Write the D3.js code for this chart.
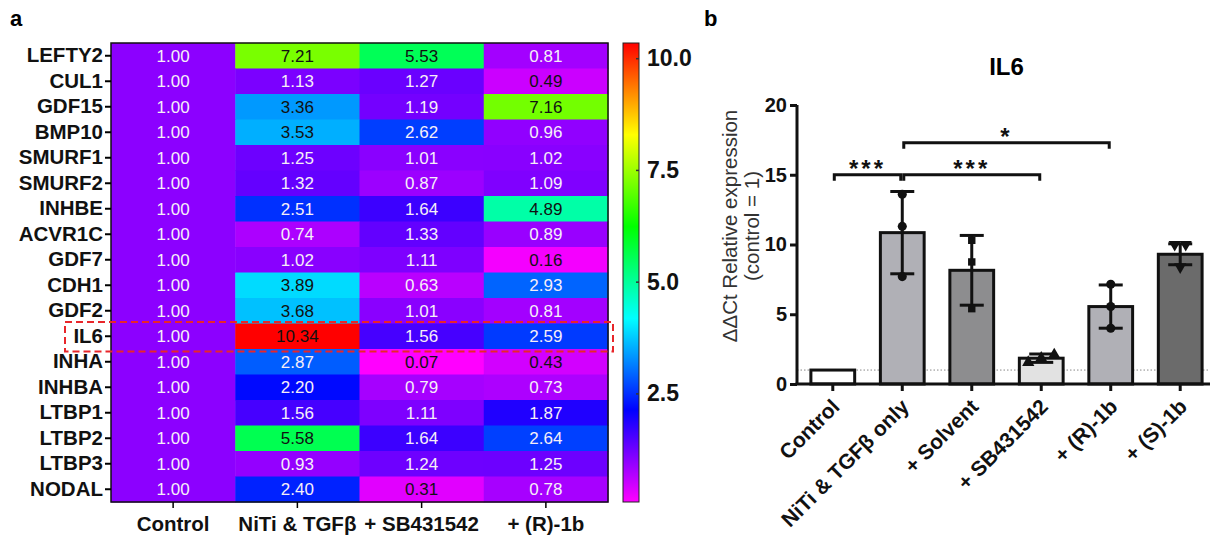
<!DOCTYPE html>
<html>
<head>
<meta charset="utf-8">
<script src="https://cdn.jsdelivr.net/npm/d3@7"></script>
<style>
  body { margin: 0; background: #fff; }
  text { font-family: Arial, "Liberation Sans", sans-serif; }
</style>
</head>
<body>
<svg id="fig" width="1210" height="535"></svg>
<script>
// ---- panel a data: fold change per gene ----
const genes = ["LEFTY2", "CUL1", "GDF15", "BMP10", "SMURF1", "SMURF2", "INHBE", "ACVR1C", "GDF7",
               "CDH1", "GDF2", "IL6", "INHA", "INHBA", "LTBP1", "LTBP2", "LTBP3", "NODAL"];
const conditions = ["Control", "NiTi & TGFβ", "+ SB431542", "+ (R)-1b"];
const controlVals = [1.00, 1.00, 1.00, 1.00, 1.00, 1.00, 1.00, 1.00, 1.00, 1.00, 1.00, 1.00, 1.00, 1.00, 1.00, 1.00, 1.00, 1.00];
const nitiVals    = [7.21, 1.13, 3.36, 3.53, 1.25, 1.32, 2.51, 0.74, 1.02, 3.89, 3.68, 10.34, 2.87, 2.20, 1.56, 5.58, 0.93, 2.40];
const sbVals      = [5.53, 1.27, 1.19, 2.62, 1.01, 0.87, 1.64, 1.33, 1.11, 0.63, 1.01, 1.56, 0.07, 0.79, 1.11, 1.64, 1.24, 0.31];
const r1bVals     = [0.81, 0.49, 7.16, 0.96, 1.02, 1.09, 4.89, 0.89, 0.16, 2.93, 0.81, 2.59, 0.43, 0.73, 1.87, 2.64, 1.25, 0.78];
const colorTicks = [2.5, 5.0, 7.5, 10.0];
const highlightGene = "IL6";

// ---- panel b data: IL6 ddCt ----
const groups = ["Control", "NiTi & TGFβ only", "+ Solvent", "+ SB431542", "+ (R)-1b", "+ (S)-1b"];
const groupMeans = [1.0, 10.85, 8.15, 1.85, 5.55, 9.3];
const groupSDs = [0, 2.95, 2.5, 0.3, 1.55, 0.75];
const replicates = [[], [13.6, 11.3, 7.7], [10.3, 8.75, 5.4], [1.55, 1.85, 2.1], [7.15, 5.55, 4.0], [10.0, 10.0, 8.4]];
const yTicksB = [0, 5, 10, 15, 20];
const comparisons = [
  { a: 0, b: 1, y: 15.0, label: "***" },
  { a: 1, b: 3, y: 15.0, label: "***" },
  { a: 1, b: 4, y: 17.3, label: "*" }
];

const svg = d3.select("#fig");
const series = [controlVals, nitiVals, sbVals, r1bVals];

// ================= panel a: heatmap =================
const hm = { left: 111, right: 608, top: 43, bottom: 502 };
const x = d3.scaleBand().domain(conditions).range([hm.left, hm.right]);
const y = d3.scaleBand().domain(genes).range([hm.top, hm.bottom]);
const color = d3.scaleLinear()
  .domain([d3.min(series.flat()), d3.max(series.flat())])
  .range([d3.hsl(300, 1, 0.5), d3.hsl(0, 1, 0.5)])
  .interpolate(d3.interpolateHslLong);

const cells = [];
genes.forEach((g, i) => conditions.forEach((c, j) => cells.push({ gene: g, cond: c, v: series[j][i] })));

const gA = svg.append("g");
gA.selectAll("rect.cell").data(cells).join("rect")
  .attr("class", "cell")
  .attr("x", d => x(d.cond))
  .attr("y", d => y(d.gene))
  .attr("width", x.bandwidth() + 0.5)
  .attr("height", y.bandwidth() + 0.5)
  .attr("fill", d => color(d.v));

gA.selectAll("text.val").data(cells).join("text")
  .attr("class", "val")
  .attr("x", d => x(d.cond) + x.bandwidth() / 2)
  .attr("y", d => y(d.gene) + y.bandwidth() / 2)
  .attr("dy", "0.36em")
  .attr("text-anchor", "middle")
  .style("font-size", "17px")
  .attr("fill", d => (d.v > 3 || d.v < 0.5) ? "#111" : "#f6eef8")
  .text(d => d.v.toFixed(2));

gA.append("rect")
  .attr("x", hm.left).attr("y", hm.top)
  .attr("width", hm.right - hm.left).attr("height", hm.bottom - hm.top)
  .attr("fill", "none").attr("stroke", "#111").attr("stroke-width", 1.5);

gA.append("g")
  .attr("transform", `translate(${hm.left},0)`)
  .call(d3.axisLeft(y).tickSize(6).tickPadding(2))
  .call(g => g.select(".domain").remove())
  .call(g => g.selectAll(".tick line").attr("stroke-width", 2))
  .call(g => g.selectAll("text").style("font-size", "20.5px").style("font-weight", "bold").attr("fill", "#111"));

gA.append("g")
  .attr("transform", `translate(0,${hm.bottom})`)
  .call(d3.axisBottom(x).tickSize(6).tickPadding(8))
  .call(g => g.select(".domain").remove())
  .call(g => g.selectAll(".tick line").attr("stroke-width", 1.5))
  .call(g => g.selectAll("text").style("font-size", "20.5px").style("font-weight", "bold").attr("fill", "#111"));

// highlight box
gA.append("rect")
  .attr("x", 65).attr("y", y(highlightGene) - 1.5)
  .attr("width", hm.right + 5 - 65).attr("height", y.bandwidth() + 4)
  .attr("fill", "none").attr("stroke", "#e8262a")
  .attr("stroke-width", 2).attr("stroke-dasharray", "7,4");

// colour bar
const cb = { x: 623, w: 16 };
const cScale = d3.scaleLinear().domain(color.domain()).range([hm.bottom, hm.top]);
const grad = svg.append("defs").append("linearGradient")
  .attr("id", "cbar").attr("x1", 0).attr("y1", 1).attr("x2", 0).attr("y2", 0);
d3.range(0, 1.0001, 0.05).forEach(t => {
  const v = color.domain()[0] + t * (color.domain()[1] - color.domain()[0]);
  grad.append("stop").attr("offset", t).attr("stop-color", color(v));
});
gA.append("rect")
  .attr("x", cb.x).attr("y", hm.top)
  .attr("width", cb.w).attr("height", hm.bottom - hm.top)
  .attr("fill", "url(#cbar)").attr("stroke", "#222").attr("stroke-width", 1);
gA.append("g")
  .attr("transform", `translate(${cb.x + cb.w},0)`)
  .call(d3.axisRight(cScale).tickValues(colorTicks).tickFormat(d3.format(".1f")).tickSize(-3).tickPadding(8))
  .call(g => g.select(".domain").remove())
  .call(g => g.selectAll(".tick line").attr("stroke", "#333").attr("stroke-width", 1.5))
  .call(g => g.selectAll("text").style("font-size", "23px").style("font-weight", "bold").attr("fill", "#111"));

svg.append("text").attr("x", 10).attr("y", 26)
  .style("font-size", "22px").style("font-weight", "bold").text("a");

// ================= panel b: bar chart =================
const bc = { left: 797, right: 1216, top: 105, bottom: 384 };
const xb = d3.scaleBand().domain(groups).range([bc.left, bc.right]).paddingInner(0.37).paddingOuter(0.2);
const yb = d3.scaleLinear().domain([0, 20]).range([bc.bottom, bc.top]);
const barFills = ["#ffffff", "#b0b0b6", "#8d8d8f", "#e2e2e2", "#b0b0b6", "#6b6b6b"];
const markers = [d3.symbolCircle, d3.symbolCircle, d3.symbolSquare, d3.symbolTriangle, d3.symbolCircle, d3.symbolTriangle];
const flip = [false, false, false, false, false, true];

const gB = svg.append("g");

gB.append("line")
  .attr("x1", bc.left).attr("x2", 1210)
  .attr("y1", yb(1)).attr("y2", yb(1))
  .attr("stroke", "#888").attr("stroke-width", 1).attr("stroke-dasharray", "1.5,2");

gB.selectAll("rect.bar").data(groups).join("rect")
  .attr("class", "bar")
  .attr("x", d => xb(d))
  .attr("y", (d, i) => yb(groupMeans[i]))
  .attr("width", xb.bandwidth())
  .attr("height", (d, i) => yb(0) - yb(groupMeans[i]))
  .attr("fill", (d, i) => barFills[i])
  .attr("stroke", "#111").attr("stroke-width", 3);

// error bars
const capW = 24;
groups.forEach((gname, i) => {
  if (!groupSDs[i]) return;
  const cx = xb(gname) + xb.bandwidth() / 2;
  const hi = yb(groupMeans[i] + groupSDs[i]), lo = yb(groupMeans[i] - groupSDs[i]);
  const eb = gB.append("g").attr("stroke", "#111").attr("stroke-width", 3);
  eb.append("line").attr("x1", cx).attr("x2", cx).attr("y1", hi).attr("y2", lo);
  eb.append("line").attr("x1", cx - capW / 2).attr("x2", cx + capW / 2).attr("y1", hi).attr("y2", hi);
  eb.append("line").attr("x1", cx - capW / 2).attr("x2", cx + capW / 2).attr("y1", lo).attr("y2", lo);
});

// replicate points, spread sideways when values sit close together
groups.forEach((gname, i) => {
  const cx = xb(gname) + xb.bandwidth() / 2;
  const pts = replicates[i].map(v => ({ v }));
  pts.forEach(p => {
    const near = pts.filter(q => Math.abs(q.v - p.v) < 0.6).sort((a, b) => a.v - b.v);
    const k = near.indexOf(p);
    p.dx = near.length > 1 ? (k - (near.length - 1) / 2) * (near.length > 2 ? 13 : 11) : 0;
  });
  const sym = d3.symbol().type(markers[i]).size(markers[i] === d3.symbolSquare ? 55 : 65);
  gB.selectAll(null).data(pts).join("path")
    .attr("d", sym)
    .attr("transform", p => `translate(${cx + p.dx},${yb(p.v)})${flip[i] ? " rotate(180)" : ""}`)
    .attr("fill", "#111");
});

// axes
gB.append("g")
  .attr("transform", `translate(${bc.left},0)`)
  .call(d3.axisLeft(yb).tickValues(yTicksB).tickSize(7).tickPadding(3))
  .call(g => g.selectAll("path, line").attr("stroke", "#111").attr("stroke-width", 3))
  .call(g => g.select(".domain").attr("d", `M0,${bc.top}V${bc.bottom}`))
  .call(g => g.selectAll("text").style("font-size", "20px").style("font-weight", "bold").attr("fill", "#111"));

gB.append("g")
  .attr("transform", `translate(0,${bc.bottom})`)
  .call(d3.axisBottom(xb).tickSize(7))
  .call(g => g.selectAll("path, line").attr("stroke", "#111").attr("stroke-width", 3))
  .call(g => g.select(".domain").attr("d", `M${bc.left - 1.5},0H${bc.right}`))
  .call(g => g.selectAll("text")
    .attr("x", 0).attr("y", 0).attr("dy", 0)
    .attr("transform", "translate(8,24) rotate(-45)")
    .style("text-anchor", "end")
    .style("font-size", "21px").style("font-weight", "bold").attr("fill", "#111"));

// significance brackets
const bg = gB.append("g");
comparisons.forEach(c => {
  const x1 = xb(groups[c.a]) + xb.bandwidth() / 2 + 1.5;
  const x2 = xb(groups[c.b]) + xb.bandwidth() / 2 - 1.5;
  const yy = yb(c.y);
  bg.append("path")
    .attr("d", `M${x1},${yy + 6}V${yy}H${x2}V${yy + 6}`)
    .attr("fill", "none").attr("stroke", "#111").attr("stroke-width", 3);
  bg.append("text")
    .attr("x", (x1 + x2) / 2).attr("y", yy + 2)
    .attr("text-anchor", "middle")
    .style("font-size", "24px").style("font-weight", "bold").style("letter-spacing", "3px")
    .attr("fill", "#111")
    .text(c.label);
});

// title and y label
svg.append("text").attr("x", (bc.left + 1216) / 2).attr("y", 75)
  .attr("text-anchor", "middle")
  .style("font-size", "24px").style("font-weight", "bold").text("IL6");

const yl = svg.append("g").attr("transform", "translate(737,226) rotate(-90)");
yl.append("text").attr("text-anchor", "middle").attr("y", 0)
  .style("font-size", "20.5px").attr("fill", "#333").text("ΔΔCt Relative expression");
yl.append("text").attr("text-anchor", "middle").attr("y", 22)
  .style("font-size", "20.5px").attr("fill", "#333").text("(control = 1)");

svg.append("text").attr("x", 704).attr("y", 26)
  .style("font-size", "22px").style("font-weight", "bold").text("b");
</script>
</body>
</html>
